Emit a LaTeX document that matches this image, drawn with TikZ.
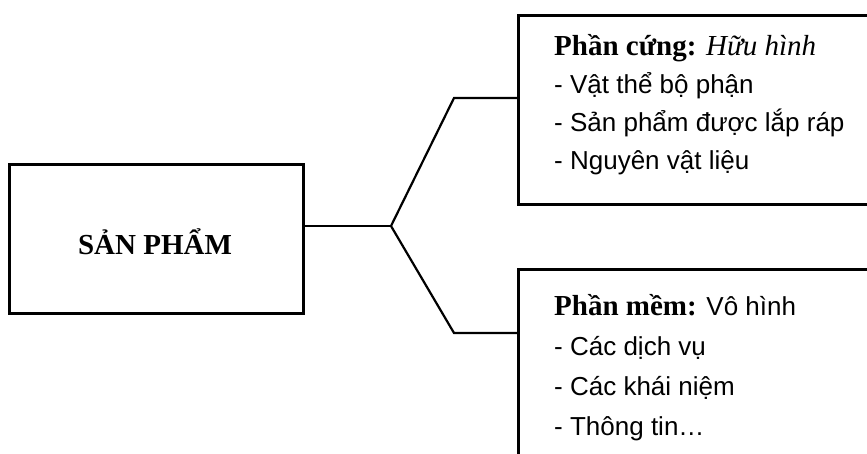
\documentclass[tikz,border=0pt]{standalone}
\usepackage{fontspec}
\setmainfont{Liberation Serif}
\newfontfamily\bodyf{Liberation Sans}
\begin{document}
\begin{tikzpicture}[x=1pt,y=-1pt,
  boxstyle/.style={draw=black,line width=2.6pt,rectangle,inner sep=0pt,anchor=north west},
  link/.style={draw=black,line width=2.2pt,line join=miter},
  headtxt/.style={anchor=base west,inner sep=0pt,font=\fontsize{29}{29}\selectfont},
  itemtxt/.style={anchor=base west,inner sep=0pt,font=\bodyf\fontsize{26}{26}\selectfont}]
\useasboundingbox (0,0) rectangle (867,454);
\clip (0,0) rectangle (867,454);
% main box
\node[boxstyle,minimum width=294pt,minimum height=149pt] (prod) at (8,163) {};
\node[inner sep=0pt,font=\bfseries\fontsize{29}{29}\selectfont] (prodtxt) at (155,242) {SẢN PHẨM};
% right boxes (run past the picture's edge)
\node[boxstyle,minimum width=400pt,minimum height=189pt] (hw) at (517,14) {};
\node[boxstyle,minimum width=400pt,minimum height=260pt] (sw) at (517,268) {};
% texts of the upper box
\node[headtxt] (hw1) at (554,56) {\textbf{Phần cứng:} \textit{Hữu hình}};
\node[itemtxt] (hw2) at (554,94) {- Vật thể bộ phận};
\node[itemtxt] (hw3) at (554,132) {- Sản phẩm được lắp ráp};
\node[itemtxt] (hw4) at (554,170) {- Nguyên vật liệu};
% texts of the lower box
\node[headtxt] (sw1) at (554,316) {\textbf{Phần mềm:} {\bodyf\fontsize{26}{26}\selectfont Vô hình}};
\node[itemtxt] (sw2) at (554,355) {- Các dịch vụ};
\node[itemtxt] (sw3) at (554,395) {- Các khái niệm};
\node[itemtxt] (sw4) at (554,435) {- Thông tin…};
% connectors
\coordinate (jn) at (391,226);
\coordinate (bu) at (454,98);
\coordinate (bl) at (454,333);
\draw[link] (jn -| prod.east) -- (jn);
\draw[link] (jn) -- (bu) -- (bu -| hw.west);
\draw[link] (jn) -- (bl) -- (bl -| sw.west);
\end{tikzpicture}
\end{document}
